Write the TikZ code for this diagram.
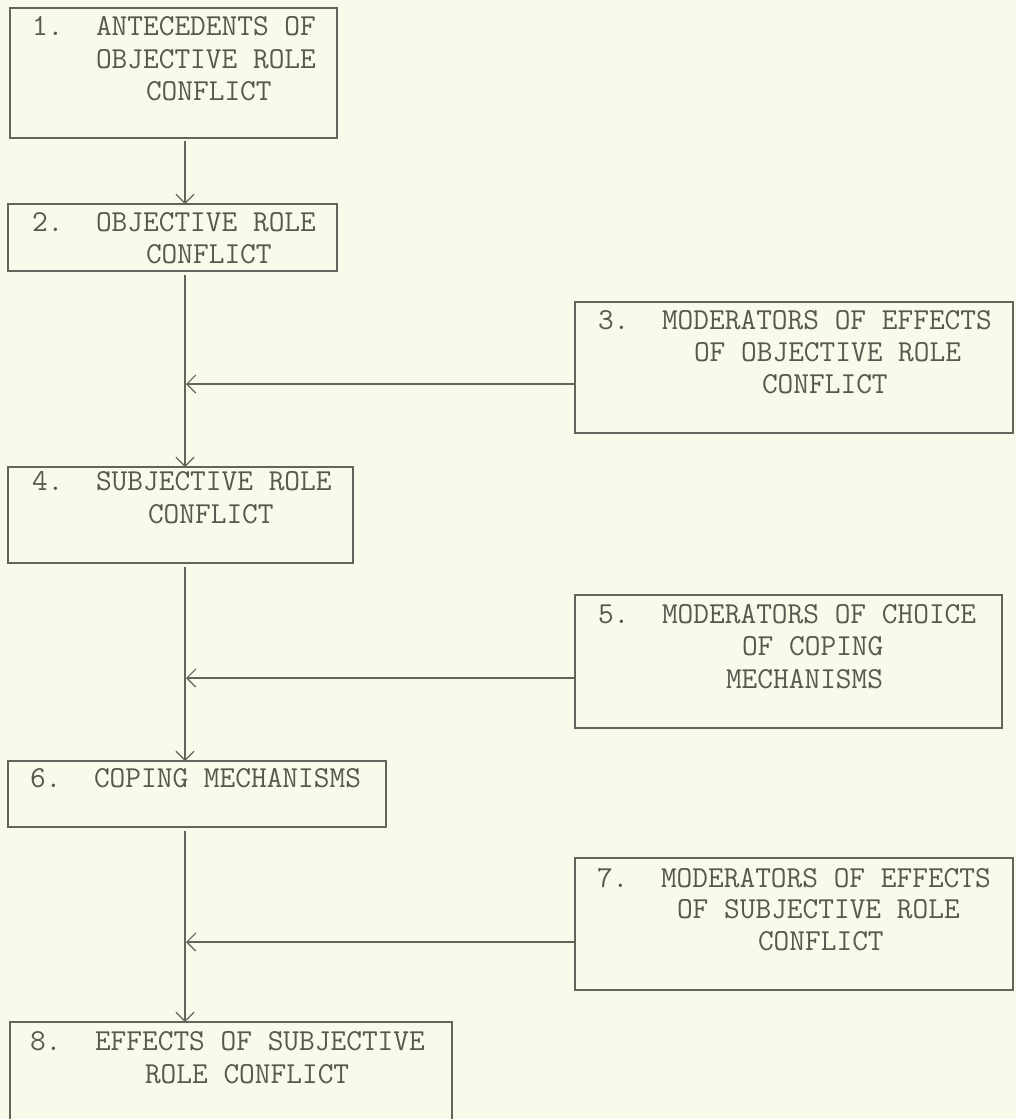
\documentclass[tikz,border=0pt]{standalone}
\usetikzlibrary{arrows.meta}
\definecolor{bgc}{RGB}{249,250,234}
\definecolor{linec}{RGB}{100,100,92}
\definecolor{textc}{RGB}{88,88,80}
\begin{document}
\begin{tikzpicture}[x=1pt,y=-1pt,
  box/.style={draw=linec, line width=1.3pt, inner sep=0pt, outer sep=0pt, minimum width=#1},
  lbl/.style={anchor=base west, inner sep=0pt, outer sep=0pt, text=textc,
    font=\fontsize{30.5}{33}\selectfont\ttfamily},
  arr/.style={draw=linec, line width=1.3pt,
    -{Straight Barb[length=9pt,width=18pt,line width=1.2pt]}},
  conn/.style={draw=linec, line width=1.3pt}]
\useasboundingbox (0,0) rectangle (1016,1119);
\clip (0,0) rectangle (1016,1119);
\fill[bgc] (0,0) rectangle (1016,1119);

% boxes
\node[box=327pt, minimum height=130pt] (b1) at (173.5,73) {};
\node[box=329pt, minimum height=67pt]  (b2) at (172.5,237.5) {};
\node[box=438pt, minimum height=131pt] (b3) at (794,367.5) {};
\node[box=345pt, minimum height=96pt]  (b4) at (180.5,515) {};
\node[box=427pt, minimum height=133pt] (b5) at (788.5,661.5) {};
\node[box=378pt, minimum height=66pt]  (b6) at (197,794) {};
\node[box=438pt, minimum height=132pt] (b7) at (794,924) {};
\node[box=442pt, minimum height=130pt] (b8) at (231,1087) {};

% texts
\node[lbl] (t1n) at (32,35) {1.};
\node[lbl] (t1a) at (96,35) {ANTECEDENTS OF};
\node[lbl] (t1b) at (96,68) {OBJECTIVE ROLE};
\node[lbl] (t1c) at (146,100) {CONFLICT};

\node[lbl] (t2n) at (32,231) {2.};
\node[lbl] (t2a) at (96,231) {OBJECTIVE ROLE};
\node[lbl] (t2b) at (146,263) {CONFLICT};

\node[lbl] (t3n) at (598,329) {3.};
\node[lbl] (t3a) at (662,329) {MODERATORS OF EFFECTS};
\node[lbl] (t3b) at (694,361) {OF OBJECTIVE ROLE};
\node[lbl] (t3c) at (762,393) {CONFLICT};

\node[lbl] (t4n) at (32,490) {4.};
\node[lbl] (t4a) at (96,490) {SUBJECTIVE ROLE};
\node[lbl] (t4b) at (148,523) {CONFLICT};

\node[lbl] (t5n) at (598,623) {5.};
\node[lbl] (t5a) at (662,623) {MODERATORS OF CHOICE};
\node[lbl] (t5b) at (742,655) {OF COPING};
\node[lbl] (t5c) at (726,688) {MECHANISMS};

\node[lbl] (t6n) at (30,787) {6.};
\node[lbl] (t6a) at (94,787) {COPING MECHANISMS};

\node[lbl] (t7n) at (597,887) {7.};
\node[lbl] (t7a) at (661,887) {MODERATORS OF EFFECTS};
\node[lbl] (t7b) at (677,918) {OF SUBJECTIVE ROLE};
\node[lbl] (t7c) at (758,950) {CONFLICT};

\node[lbl] (t8n) at (30,1050) {8.};
\node[lbl] (t8a) at (95,1050) {EFFECTS OF SUBJECTIVE};
\node[lbl] (t8b) at (145,1083) {ROLE CONFLICT};

% connectors
\coordinate (v) at (185,0);
\coordinate (h3) at (186,384);
\coordinate (h5) at (186,678);
\coordinate (h7) at (186,942);

\draw[arr] ([yshift=-3pt]b1.south -| v) -- (b2.north -| v);
\draw[arr] ([yshift=-4pt]b2.south -| v) -- (b4.north -| v);
\draw[arr] ([yshift=-4pt]b4.south -| v) -- (b6.north -| v);
\draw[arr] ([yshift=-4pt]b6.south -| v) -- (b8.north -| v);

\draw[arr] (b3.west |- h3) -- (h3);
\draw[arr] (b5.west |- h5) -- (h5);
\draw[arr] (b7.west |- h7) -- (h7);
\end{tikzpicture}
\end{document}
